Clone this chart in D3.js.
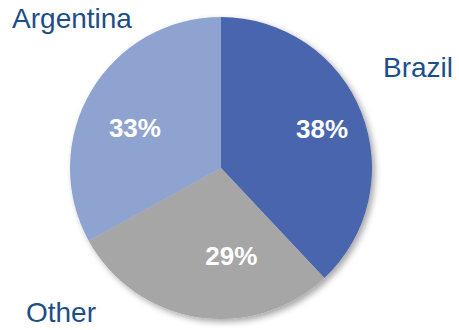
<!DOCTYPE html>
<html>
<head>
<meta charset="utf-8">
<script src="https://cdn.jsdelivr.net/npm/d3@7"></script>
<style>
  html, body { margin: 0; padding: 0; background: #fff; }
  svg { display: block; font-family: "Liberation Sans", Arial, sans-serif; }
</style>
</head>
<body>
<svg id="chart" width="459" height="330"></svg>
<script>
// Market share by country
const categories = ["Brazil", "Other", "Argentina"];
const shares = [38, 29, 33];
const sliceColors = ["#4a65ae", "#a6a6a6", "#8fa3d0"];

const svg = d3.select("#chart");
const cx = 221, cy = 168, radius = 151;

// soft drop shadow under the pie
const defs = svg.append("defs");
const f = defs.append("filter").attr("id", "shadow")
  .attr("x", "-20%").attr("y", "-20%").attr("width", "140%").attr("height", "140%");
f.append("feDropShadow").attr("dx", 3).attr("dy", 3).attr("stdDeviation", 3)
  .attr("flood-color", "#000").attr("flood-opacity", 0.35);

const data = categories.map((c, i) => ({ name: c, value: shares[i], color: sliceColors[i] }));
const pie = d3.pie().value(d => d.value).sort(null);
const arcs = pie(data);
const arc = d3.arc().innerRadius(0).outerRadius(radius);
const labelArc = d3.arc().innerRadius(100).outerRadius(100);

const g = svg.append("g").attr("transform", `translate(${cx},${cy})`);
g.append("g").attr("filter", "url(#shadow)")
  .selectAll("path").data(arcs).join("path")
  .attr("d", arc)
  .attr("fill", d => d.data.color);

// percentage labels inside slices, nudged from the slice centroid
const pctNudge = { Brazil: [8, -3], Other: [26, -11], Argentina: [0, 11] };
g.selectAll("text.pct").data(arcs).join("text")
  .attr("class", "pct")
  .attr("transform", d => {
    const [x, y] = labelArc.centroid(d);
    const [nx, ny] = pctNudge[d.data.name];
    return `translate(${x + nx},${y + ny})`;
  })
  .attr("text-anchor", "middle")
  .attr("dy", "0.36em")
  .attr("fill", "#fff")
  .attr("font-weight", "bold")
  .attr("font-size", 26)
  .text(d => d.data.value + "%");

// category names outside the pie
const namePos = { Brazil: [418, 77], Other: [61, 322], Argentina: [72, 28] };
svg.selectAll("text.name").data(data).join("text")
  .attr("class", "name")
  .attr("x", d => namePos[d.name][0])
  .attr("y", d => namePos[d.name][1])
  .attr("text-anchor", "middle")
  .attr("fill", "#1d4e89")
  .attr("font-size", 28)
  .text(d => d.name);
</script>
</body>
</html>
